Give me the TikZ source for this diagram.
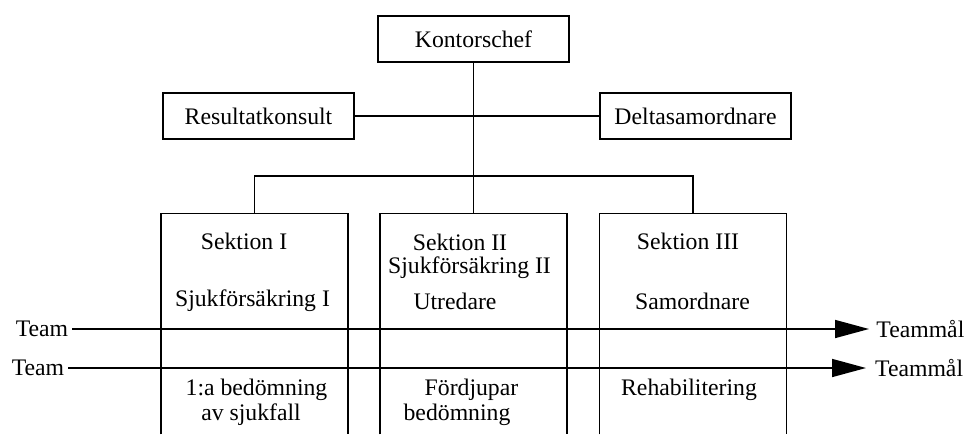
\documentclass[tikz,border=0pt]{standalone}
\usepackage{fontspec}
\setmainfont{Liberation Serif}
\usetikzlibrary{arrows.meta}
\begin{document}
\begin{tikzpicture}[
  every node/.style={font=\fontsize{13.5}{16}\selectfont},
  orgbox/.style={draw, line width=0.9pt, minimum width=3.82cm, minimum height=0.92cm, inner sep=0pt},
  sektion/.style={minimum width=3.72cm, minimum height=4.4cm, inner sep=0pt},
  orgline/.style={line width=0.9pt},
  teamline/.style={line width=0.9pt, -{Triangle[length=0.68cm,width=0.36cm]}}
]
\useasboundingbox (0,0) rectangle (19.32,8.68);

\node[orgbox] (kontor) at (9.47,7.90) {Kontorschef};
\node[orgbox] (resultat) at (5.17,6.36) {Resultatkonsult};
\node[orgbox] (delta) at (13.91,6.36) {Deltasamordnare};

\node[sektion] (sek1) at (5.09,2.20) {};
\node[sektion] (sek2) at (9.47,2.20) {};
\node[sektion] (sek3) at (13.86,2.20) {};
\foreach \s in {sek1,sek2,sek3}
  \draw[orgline] (\s.south west) -- (\s.north west) -- (\s.north east) -- (\s.south east);

\coordinate (grena) at (9.47,5.16);
\draw[orgline] (kontor.south) -- (sek2.north);
\draw[orgline] (resultat.east) -- (delta.west);
\draw[orgline] (sek1.north) |- (grena) -| (sek3.north);

\node (t1a) at (4.88,3.86) {Sektion I};
\node (t1b) at (5.05,2.66) {Sjukförsäkring I};
\node (t1c) at (5.13,0.88) {1:a bedömning};
\node (t1d) at (5.02,0.38) {av sjukfall};

\node (t2a) at (9.20,3.84) {Sektion II};
\node (t2b) at (9.39,3.32) {Sjukförsäkring II};
\node (t2c) at (9.10,2.66) {Utredare};
\node (t2d) at (9.43,0.88) {Fördjupar};
\node (t2e) at (9.14,0.38) {bedömning};

\node (t3a) at (13.76,3.86) {Sektion III};
\node (t3b) at (13.85,2.66) {Samordnare};
\node (t3c) at (13.78,0.88) {Rehabilitering};

\node[anchor=east, inner sep=2pt] (team1) at (1.44,2.10) {Team};
\node[anchor=east, inner sep=2pt] (team2) at (1.36,1.32) {Team};
\node[anchor=west, inner sep=2pt, inner xsep=4pt] (mal1) at (17.38,2.10) {Teammål};
\node[anchor=west, inner sep=2pt, inner xsep=5pt] (mal2) at (17.32,1.32) {Teammål};
\draw[teamline] (team1.east) -- (mal1.west);
\draw[teamline] (team2.east) -- (mal2.west);

\end{tikzpicture}
\end{document}
